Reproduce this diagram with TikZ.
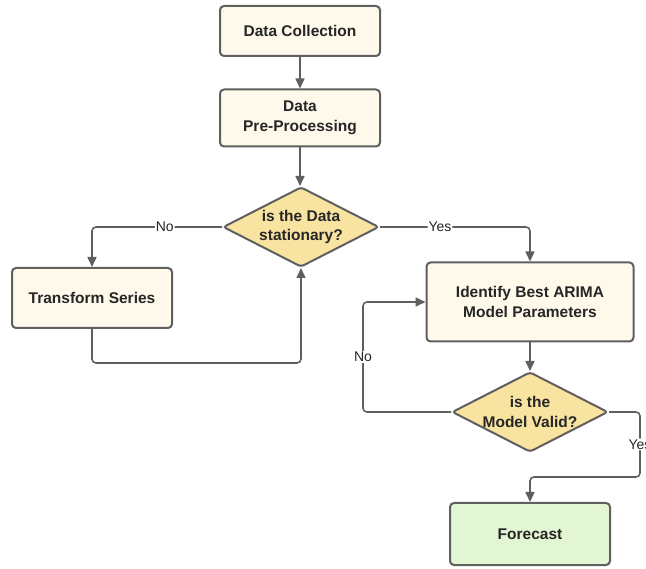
\documentclass[tikz,border=0pt]{standalone}
\usepackage{fontspec}
\setmainfont{Liberation Sans}
\usetikzlibrary{arrows.meta,shapes.geometric}

\definecolor{boxfill}{HTML}{FEF9EB}
\definecolor{decfill}{HTML}{F9E3A1}
\definecolor{endfill}{HTML}{E2F6D4}
\definecolor{linegray}{HTML}{5F5F5F}

\tikzset{
  procbox/.style={draw=linegray, line width=2pt, fill=boxfill, rounded corners=4pt,
    align=center, text=black!85, font=\fontsize{15.5}{19.5}\selectfont\bfseries,
    minimum width=160pt, inner sep=0pt},
  decision/.style={diamond, aspect=1.95, draw=linegray, line width=2pt, fill=decfill,
    rounded corners=3pt, align=center, text=black!85,
    font=\fontsize{15.5}{19.5}\selectfont\bfseries,
    minimum width=156pt, minimum height=80pt, inner sep=0pt},
  flow/.style={draw=linegray, line width=1.6pt, rounded corners=4pt,
    -{Triangle[length=10pt,width=9pt]}},
  answer/.style={fill=white, inner sep=1pt, text=black!85,
    font=\fontsize{14}{16}\selectfont}
}

\begin{document}
\begin{tikzpicture}[x=1pt, y=-1pt]
  \useasboundingbox (0,0) rectangle (646,569);

  % Main steps
  \node[procbox, minimum height=50pt] (collect) at (300,31) {Data Collection};
  \node[procbox, minimum height=57pt] (prep) at (300,118) {Data\\Pre-Processing};
  \node[decision] (stat) at (301,227) {is the Data\\stationary?};
  \node[procbox, minimum height=60pt] (transform) at (92,298) {Transform Series};
  \node[procbox, minimum width=207pt, minimum height=79pt] (ident) at (530,302)
    {Identify Best ARIMA\\Model Parameters};
  \node[decision, inner xsep=-3pt, inner ysep=-1pt] (valid) at (530,412) {is the\\Model Valid?};
  \node[procbox, fill=endfill, minimum height=62pt] (forecast) at (530,534) {Forecast};

  % turning points
  \coordinate (noturn) at (363,302);
  \coordinate (yesturn) at (640,477);

  % Connectors
  \draw[flow] (collect) -- (prep);
  \draw[flow] (prep.south) -- (prep.south |- stat.north);
  \draw[flow] (stat.west) -| node[answer, pos=0.22] {No} (transform.north);
  \draw[flow] (stat.east) -| node[answer, pos=0.2] {Yes} (ident.north);
  \draw[flow] (transform.south) -- ++(0,34) -| (stat.south);
  \draw[flow] (ident) -- (valid);
  \draw[flow] (valid.west) -| node[answer, pos=0.75] {No} (noturn) -- (ident.west);
  \draw[flow] (valid.east) -| node[answer, pos=0.75] {Yes} (yesturn) -| (forecast.north);
\end{tikzpicture}
\end{document}
